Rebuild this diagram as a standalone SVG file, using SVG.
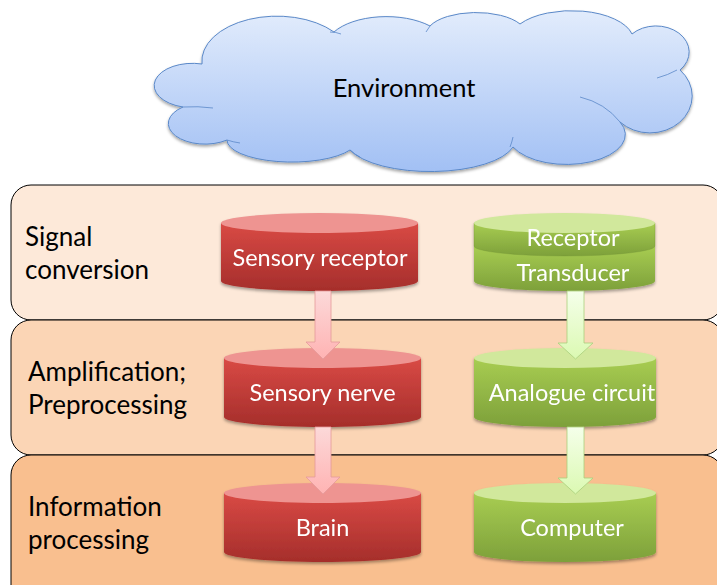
<svg xmlns="http://www.w3.org/2000/svg" width="717" height="585" viewBox="0 0 717 585">
<defs>
<linearGradient id="cloudG" x1="0" y1="0" x2="0" y2="1">
<stop offset="0" stop-color="#E2ECFC"/>
<stop offset="1" stop-color="#A2C0F4"/>
</linearGradient>
<linearGradient id="redBody" x1="0" y1="0" x2="0" y2="1">
<stop offset="0" stop-color="#D94A45"/>
<stop offset="1" stop-color="#A52E2B"/>
</linearGradient>
<linearGradient id="greenBody" x1="0" y1="0" x2="0" y2="1">
<stop offset="0" stop-color="#A8CD52"/>
<stop offset="1" stop-color="#7DA03A"/>
</linearGradient>
<linearGradient id="redArrow" x1="0" y1="0" x2="0" y2="1">
<stop offset="0" stop-color="#FCD9D9"/>
<stop offset="1" stop-color="#FFB3B3"/>
</linearGradient>
<linearGradient id="greenArrow" x1="0" y1="0" x2="0" y2="1">
<stop offset="0" stop-color="#F5FFEA"/>
<stop offset="1" stop-color="#DBF9B2"/>
</linearGradient>
<filter id="sh" x="-10%" y="-10%" width="120%" height="130%">
<feDropShadow dx="0" dy="2" stdDeviation="1.6" flood-color="#000" flood-opacity="0.35"/>
</filter>
</defs>
<style>
.panel{stroke:#000;stroke-width:1}
.lbl{font-family:Lato,"Liberation Sans",sans-serif;font-size:26px;fill:#000}
.ct{font-family:Lato,"Liberation Sans",sans-serif;font-size:23.5px;fill:#fff;text-anchor:middle}
.redB{fill:url(#redBody)}
.redT{fill:#EE9491}
.grnB{fill:url(#greenBody)}
.grnT{fill:#D1E89C}
.ra{fill:url(#redArrow);stroke:#E59A9A;stroke-width:0.8}
.ga{fill:url(#greenArrow);stroke:#A9CF7C;stroke-width:0.8}
</style>

<g id="panel-signal">
<rect class="panel" x="11" y="185" width="712" height="135" rx="20" fill="#FDE9D9"/>
<text class="lbl" x="25" y="246">Signal</text>
<text class="lbl" x="25" y="279">conversion</text>
</g>
<g id="panel-amplification">
<rect class="panel" x="11" y="320" width="712" height="135" rx="20" fill="#FBD5B5"/>
<text class="lbl" x="28" y="381">Amplification;</text>
<text class="lbl" x="28" y="414">Preprocessing</text>
</g>
<g id="panel-information">
<rect class="panel" x="11" y="455" width="712" height="160" rx="20" fill="#F9BF8F"/>
<text class="lbl" x="28" y="516">Information</text>
<text class="lbl" x="28" y="549">processing</text>
</g>

<g id="environment">
<path filter="url(#sh)" fill="url(#cloudG)" stroke="#5A88C8" stroke-width="1" d="M202,64 A75,45 0 0 1 334,32 A60,30 0 0 1 430,26 A50,22 0 0 1 520,24 A62,30 0 0 1 632,34 A28,22 0 0 1 680,70 A32,28 0 0 1 620,122 A55,28 0 0 1 513,147 A85,32 0 0 1 350,150 A65,22 0 0 1 227,140 A32,18 0 0 1 183,107 A38,22 0 0 1 202,64 Z"/>
<path fill="none" stroke="#5A88C8" stroke-width="0.8" d="M183,107 Q198,106 213,108 M657,78 Q668,75 677,70 M580,97 Q605,103 620,122 M350,150 Q354,154 360,157 M510,147 Q512,142 513,137 M227,140 Q233,142 240,143 M330,32 Q336,32 341,34 M430,26 Q428,29 426,32"/>
<text x="404" y="97" font-family="Lato,'Liberation Sans',sans-serif" font-size="25.5" text-anchor="middle" fill="#000">Environment</text>
</g>

<g id="sensory-receptor" filter="url(#sh)">
<path class="redB" d="M221,223 L221,281 A98.5,10 0 0 0 418,281 L418,223 Z"/>
<ellipse class="redT" cx="319.5" cy="223" rx="98.5" ry="10"/>
<text class="ct" x="320" y="266">Sensory receptor</text>
</g>
<g id="sensory-nerve" filter="url(#sh)">
<path class="redB" d="M224,358 L224,417 A98.5,10 0 0 0 421,417 L421,358 Z"/>
<ellipse class="redT" cx="322.5" cy="358" rx="98.5" ry="10"/>
<text class="ct" x="322.5" y="401">Sensory nerve</text>
</g>
<g id="brain" filter="url(#sh)">
<path class="redB" d="M224,493 L224,552 A98.5,10 0 0 0 421,552 L421,493 Z"/>
<ellipse class="redT" cx="322.5" cy="493" rx="98.5" ry="10"/>
<text class="ct" x="322.5" y="536">Brain</text>
</g>

<g id="receptor-transducer" filter="url(#sh)">
<path class="grnB" d="M474,246 L474,281 A90.5,10 0 0 0 655,281 L655,246 Z"/>
<path class="grnB" d="M474,223 L474,246 A90.5,10 0 0 0 655,246 L655,223 Z" stroke="#6F8F33" stroke-width="0.6" stroke-opacity="0.5"/>
<ellipse class="grnT" cx="564.5" cy="223" rx="90.5" ry="10"/>
<text class="ct" x="573" y="246">Receptor</text>
<text class="ct" x="573" y="281">Transducer</text>
</g>
<g id="analogue-circuit" filter="url(#sh)">
<path class="grnB" d="M474,358 L474,417 A91,10 0 0 0 656,417 L656,358 Z"/>
<ellipse class="grnT" cx="565" cy="358" rx="91" ry="10"/>
<text class="ct" x="572" y="401">Analogue circuit</text>
</g>
<g id="computer" filter="url(#sh)">
<path class="grnB" d="M474,493 L474,552 A91,10 0 0 0 656,552 L656,493 Z"/>
<ellipse class="grnT" cx="565" cy="493" rx="91" ry="10"/>
<text class="ct" x="572" y="536">Computer</text>
</g>

<g id="connectors">
<path class="ra" d="M315,291 L331,291 L331,342 L340,342 L323,359 L306,342 L315,342 Z"/>
<path class="ra" d="M315,427 L331,427 L331,477 L340,477 L323,494 L306,477 L315,477 Z"/>
<path class="ga" d="M567,291 L584,291 L584,343 L593,343 L575.5,359 L558,343 L567,343 Z"/>
<path class="ga" d="M567,427 L584,427 L584,478 L593,478 L575.5,494 L558,478 L567,478 Z"/>
</g>
</svg>
